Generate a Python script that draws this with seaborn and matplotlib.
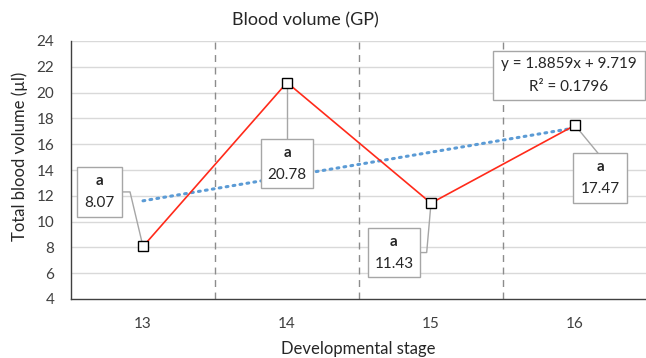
import numpy as np
import pandas as pd
import matplotlib
matplotlib.use("Agg")
import matplotlib.pyplot as plt
from matplotlib.patches import Rectangle
import seaborn as sns

stages = ["13", "14", "15", "16"]
volume = [8.07, 20.78, 11.43, 17.47]
letters = ["a", "a", "a", "a"]
y_ticks = [4, 6, 8, 10, 12, 14, 16, 18, 20, 22, 24]
eq_text = "y = 1.8859x + 9.719"
r2_text = "R² = 0.1796"

sns.set_theme(style="white")
plt.rcParams['font.family'] = ['Lato', 'DejaVu Sans']

df = pd.DataFrame({"pos": np.arange(len(stages)), "vol": volume})

fig = plt.figure(figsize=(6.46, 3.58), dpi=100)
ax = fig.add_axes([71/646, 1 - 299/358, (647-71)/646, (299-41)/358])

ax.set_xlim(-0.5, 3.5)
ax.set_ylim(4, 24)
ax.set_yticks(y_ticks)
for yv in y_ticks[1:]:
    ax.axhline(yv, color="#d9d9d9", lw=1.0, zorder=0)
for xb in [0.5, 1.5, 2.5]:
    ax.axvline(xb, color="#8c8c8c", lw=1.0, ls=(0, (5, 4)), zorder=1)

# linear trendline fitted to the series
coef = np.polyfit(np.arange(1, 5), volume, 1)
tx = np.linspace(1, 4, 50)
ax.plot(tx - 1, np.polyval(coef, tx), color="#5B9BD5", lw=2.2, ls=(0, (0.6, 1.7)),
        dash_capstyle="round", zorder=2)

sns.lineplot(data=df, x="pos", y="vol", ax=ax, color="#FF2A1A", lw=1.2,
             marker="s", markersize=7, markerfacecolor="white",
             markeredgecolor="black", markeredgewidth=1.0, zorder=4)

# data labels (box centre, box width in data units) with leader lines
box_pos = [(-0.30, 12.3, 0.31), (1.0, 14.5, 0.36), (1.743, 7.6, 0.36), (3.174, 13.38, 0.375)]
leaders = [
    [(-0.145, 12.3), (-0.09, 12.3), (0.0, 8.07)],
    [(1.0, 16.4), (1.0, 20.78)],
    [(1.923, 7.6), (1.97, 7.6), (2.0, 11.43)],
    [(3.16, 15.3), (3.0, 17.47)],
]
bh = 3.85
for i, ((bx, by, bw), ld) in enumerate(zip(box_pos, leaders)):
    ax.plot([p[0] for p in ld], [p[1] for p in ld], color="#a6a6a6", lw=1.0, zorder=3)
    ax.add_patch(Rectangle((bx - bw/2, by - bh/2), bw, bh, fc="white", ec="#a6a6a6",
                           lw=1.0, zorder=5))
    ax.text(bx, by + 0.85, letters[i], ha="center", va="center", fontsize=11,
            fontweight="bold", color="#262626", zorder=6)
    ax.text(bx, by - 0.85, f"{volume[i]:.2f}", ha="center", va="center", fontsize=11,
            color="#262626", zorder=6)

# trendline equation box
ax.add_patch(Rectangle((2.958 - 0.53, 21.36 - 1.9), 1.06, 3.8, fc="white", ec="#a6a6a6",
                       lw=1.0, zorder=5))
ax.text(2.958, 22.2, eq_text, ha="center", va="center", fontsize=11, color="#262626", zorder=6)
ax.text(2.958, 20.45, r2_text, ha="center", va="center", fontsize=11, color="#262626", zorder=6)

ax.set_xticks(range(len(stages)))
ax.set_xticklabels(stages)
ax.set_xlabel("")
ax.set_ylabel("")
ax.tick_params(axis="both", length=0, labelsize=11, labelcolor="#404040")
ax.tick_params(axis="x", pad=13)
ax.tick_params(axis="y", pad=12)
for s in ["top", "right"]:
    ax.spines[s].set_visible(False)
for s in ["left", "bottom"]:
    ax.spines[s].set_color("#404040")
    ax.spines[s].set_linewidth(1.0)

fig.text(305/646, 1 - 20/358, "Blood volume (GP)", ha="center", va="center", fontsize=13, color="#262626")
fig.text(358/646, 1 - 349/358, "Developmental stage", ha="center", va="center", fontsize=12, color="#262626")
fig.text(20/646, 1 - 156/358, "Total blood volume (µl)", ha="center", va="center", rotation=90,
         fontsize=12, color="#262626")

fig.savefig("out.png", dpi=100)
